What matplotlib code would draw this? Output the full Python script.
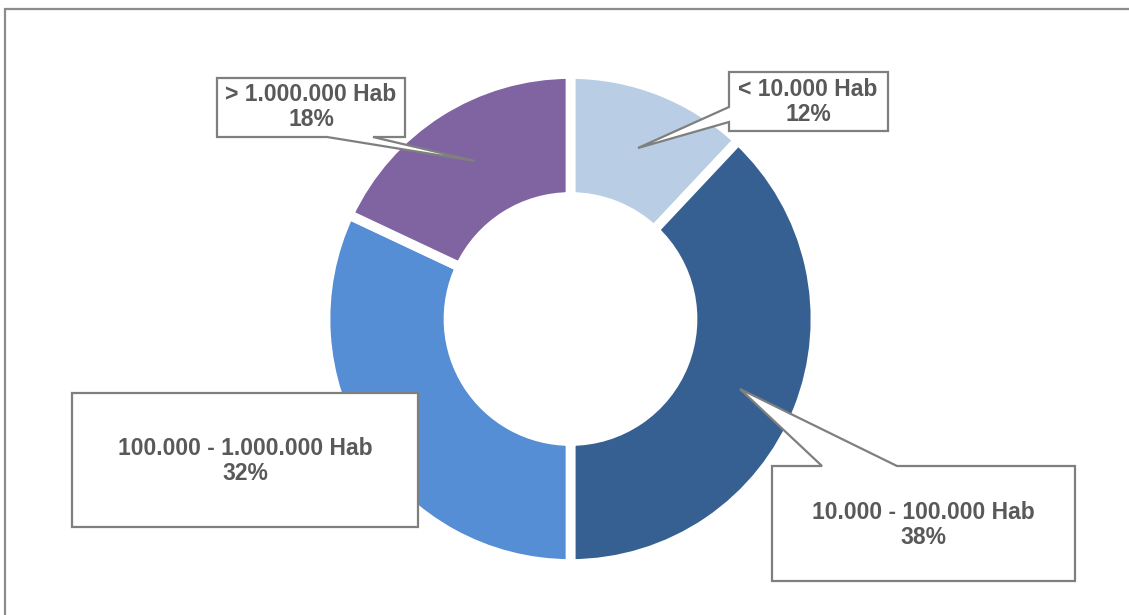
import matplotlib.pyplot as plt
from matplotlib.patches import Polygon, Rectangle

plt.rcParams['font.family'] = ['Liberation Sans', 'DejaVu Sans']

W, H = 1129, 615

labels = ['< 10.000 Hab', '10.000 - 100.000 Hab', '100.000 - 1.000.000 Hab', '> 1.000.000 Hab']
shares = [12, 38, 32, 18]
colors = ['#B9CDE5', '#366092', '#558ED5', '#8064A2']

# callout shapes in pixel coordinates (y measured from the top)
callouts = [
    [(729, 72), (888, 72), (888, 131), (729, 131), (729, 122), (638, 148), (729, 107)],
    [(772, 466), (822, 466), (740, 389), (897, 466), (1075, 466), (1075, 581), (772, 581)],
    [(72, 393), (418, 393), (418, 527), (72, 527)],
    [(217, 78), (405, 78), (405, 137), (373, 137), (475, 161), (327, 137), (217, 137)],
]
text_pos = [(808, 102), (923, 525), (245, 461), (311, 107)]


def px(x, y):
    return x, H - y


fig = plt.figure(figsize=(W / 100, H / 100), dpi=100)
ax = fig.add_axes([0, 0, 1, 1])

ax.pie(shares, colors=colors, startangle=90, counterclock=False,
       radius=245, center=px(570.5, 319),
       wedgeprops=dict(width=123, edgecolor='white', linewidth=7))

ax.set_xlim(0, W)
ax.set_ylim(0, H)
ax.axis('off')

# outer chart frame (only top and left edges are inside the image)
ax.add_patch(Rectangle(px(5, 640), 1200, 631, fill=False,
                       edgecolor='#8C8C8C', linewidth=1.6))

for pts, (tx, ty), lab, v in zip(callouts, text_pos, labels, shares):
    ax.add_patch(Polygon([px(x, y) for x, y in pts], closed=True,
                         facecolor='white', edgecolor='#7F7F7F',
                         linewidth=1.6, zorder=3))
    ax.text(*px(tx, ty), f'{lab}\n{v}%', ha='center', va='center',
            fontsize=16.5, fontweight='bold', color='#595959',
            linespacing=1.15, zorder=4)

fig.savefig('out.png', dpi=100)
